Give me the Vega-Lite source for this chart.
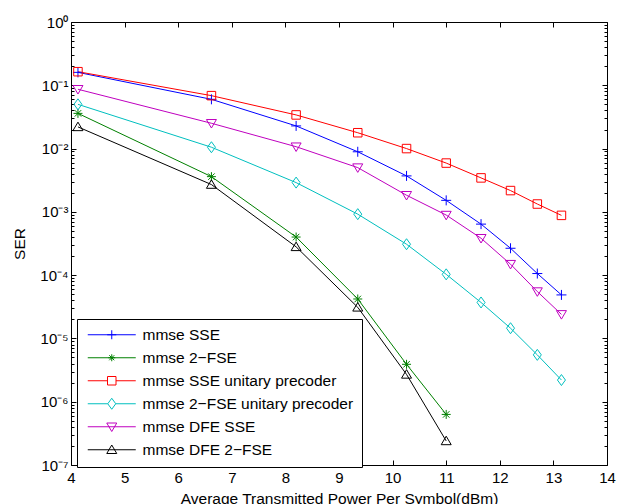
{
  "$schema": "https://vega.github.io/schema/vega-lite/v6.json",
  "width": 536,
  "height": 443,
  "autosize": {"type": "none"},
  "padding": {"left": 71, "top": 22, "right": 11, "bottom": 39},
  "background": "white",
  "config": {
    "font": "Liberation Sans",
    "view": {"stroke": null},
    "axis": {
      "domainColor": "black",
      "domainWidth": 1,
      "tickColor": "black",
      "tickWidth": 1,
      "labelColor": "black",
      "titleColor": "black",
      "grid": false,
      "labelFlush": false,
      "labelFont": "Liberation Sans",
      "titleFont": "Liberation Sans",
      "labelFontSize": 15,
      "titleFontSize": 15.5,
      "titleFontWeight": "normal"
    },
    "legend": {
      "title": null,
      "orient": "none",
      "legendX": 6,
      "legendY": 297,
      "strokeColor": "black",
      "fillColor": "white",
      "padding": 8,
      "symbolSize": 100,
      "symbolStrokeWidth": 1,
      "symbolOpacity": 1,
      "symbolOffset": 19,
      "labelOffset": 23,
      "labelFontSize": 15.5,
      "labelLimit": 0,
      "labelColor": "black",
      "labelFont": "Liberation Sans",
      "rowPadding": 6
    }
  },
  "data": {
    "values": [
      {"series": "mmse SSE", "x": 4.13, "ser": 0.16},
      {"series": "mmse SSE", "x": 6.62, "ser": 0.06},
      {"series": "mmse SSE", "x": 8.2, "ser": 0.0228},
      {"series": "mmse SSE", "x": 9.35, "ser": 0.0089},
      {"series": "mmse SSE", "x": 10.26, "ser": 0.0037},
      {"series": "mmse SSE", "x": 11.0, "ser": 0.00152},
      {"series": "mmse SSE", "x": 11.65, "ser": 0.00064},
      {"series": "mmse SSE", "x": 12.2, "ser": 0.000266},
      {"series": "mmse SSE", "x": 12.7, "ser": 0.000106},
      {"series": "mmse SSE", "x": 13.15, "ser": 0.0000487},
      {"series": "mmse 2−FSE", "x": 4.13, "ser": 0.036},
      {"series": "mmse 2−FSE", "x": 6.62, "ser": 0.0036},
      {"series": "mmse 2−FSE", "x": 8.2, "ser": 0.0004},
      {"series": "mmse 2−FSE", "x": 9.35, "ser": 0.000042},
      {"series": "mmse 2−FSE", "x": 10.26, "ser": 0.0000039},
      {"series": "mmse 2−FSE", "x": 11.0, "ser": 0.00000063},
      {"series": "mmse SSE unitary precoder", "x": 4.13, "ser": 0.164},
      {"series": "mmse SSE unitary precoder", "x": 6.62, "ser": 0.0686},
      {"series": "mmse SSE unitary precoder", "x": 8.2, "ser": 0.034},
      {"series": "mmse SSE unitary precoder", "x": 9.35, "ser": 0.0178},
      {"series": "mmse SSE unitary precoder", "x": 10.26, "ser": 0.01},
      {"series": "mmse SSE unitary precoder", "x": 11.0, "ser": 0.0059},
      {"series": "mmse SSE unitary precoder", "x": 11.65, "ser": 0.00344},
      {"series": "mmse SSE unitary precoder", "x": 12.2, "ser": 0.00217},
      {"series": "mmse SSE unitary precoder", "x": 12.7, "ser": 0.00133},
      {"series": "mmse SSE unitary precoder", "x": 13.15, "ser": 0.00088},
      {"series": "mmse 2−FSE unitary precoder", "x": 4.13, "ser": 0.05},
      {"series": "mmse 2−FSE unitary precoder", "x": 6.62, "ser": 0.0105},
      {"series": "mmse 2−FSE unitary precoder", "x": 8.2, "ser": 0.0029},
      {"series": "mmse 2−FSE unitary precoder", "x": 9.35, "ser": 0.00092},
      {"series": "mmse 2−FSE unitary precoder", "x": 10.26, "ser": 0.000308},
      {"series": "mmse 2−FSE unitary precoder", "x": 11.0, "ser": 0.000103},
      {"series": "mmse 2−FSE unitary precoder", "x": 11.65, "ser": 0.000037},
      {"series": "mmse 2−FSE unitary precoder", "x": 12.2, "ser": 0.0000145},
      {"series": "mmse 2−FSE unitary precoder", "x": 12.7, "ser": 0.0000055},
      {"series": "mmse 2−FSE unitary precoder", "x": 13.15, "ser": 0.0000022},
      {"series": "mmse DFE SSE", "x": 4.13, "ser": 0.0865},
      {"series": "mmse DFE SSE", "x": 6.62, "ser": 0.0251},
      {"series": "mmse DFE SSE", "x": 8.2, "ser": 0.0107},
      {"series": "mmse DFE SSE", "x": 9.35, "ser": 0.005},
      {"series": "mmse DFE SSE", "x": 10.26, "ser": 0.00183},
      {"series": "mmse DFE SSE", "x": 11.0, "ser": 0.00089},
      {"series": "mmse DFE SSE", "x": 11.65, "ser": 0.000383},
      {"series": "mmse DFE SSE", "x": 12.2, "ser": 0.000149},
      {"series": "mmse DFE SSE", "x": 12.7, "ser": 0.000055},
      {"series": "mmse DFE SSE", "x": 13.15, "ser": 0.000024},
      {"series": "mmse DFE 2−FSE", "x": 4.13, "ser": 0.022},
      {"series": "mmse DFE 2−FSE", "x": 6.62, "ser": 0.0027},
      {"series": "mmse DFE 2−FSE", "x": 8.2, "ser": 0.00028},
      {"series": "mmse DFE 2−FSE", "x": 9.35, "ser": 0.000031},
      {"series": "mmse DFE 2−FSE", "x": 10.26, "ser": 0.0000027},
      {"series": "mmse DFE 2−FSE", "x": 11.0, "ser": 0.00000024}
    ]
  },
  "layer": [
    {
      "mark": {"type": "line", "strokeWidth": 1},
      "encoding": {
        "x": {
          "field": "x", "type": "quantitative",
          "scale": {"domain": [4, 14], "nice": false, "zero": false},
          "axis": {
            "orient": "bottom",
            "values": [4, 5, 6, 7, 8, 9, 10, 11, 12, 13, 14],
            "format": "d",
            "tickSize": -5,
            "labelPadding": 10,
            "title": "Average Transmitted Power Per Symbol(dBm)",
            "titlePadding": 6
          }
        },
        "y": {
          "field": "ser", "type": "quantitative",
          "scale": {"type": "log", "domain": [1e-7, 1], "nice": false},
          "axis": {
            "orient": "left",
            "values": [1e-7, 2e-7, 3e-7, 4e-7, 5e-7, 6e-7, 7e-7, 8e-7, 9e-7,
                       1e-6, 2e-6, 3e-6, 4e-6, 5e-6, 6e-6, 7e-6, 8e-6, 9e-6,
                       1e-5, 2e-5, 3e-5, 4e-5, 5e-5, 6e-5, 7e-5, 8e-5, 9e-5,
                       1e-4, 2e-4, 3e-4, 4e-4, 5e-4, 6e-4, 7e-4, 8e-4, 9e-4,
                       1e-3, 2e-3, 3e-3, 4e-3, 5e-3, 6e-3, 7e-3, 8e-3, 9e-3,
                       1e-2, 2e-2, 3e-2, 4e-2, 5e-2, 6e-2, 7e-2, 8e-2, 9e-2,
                       1e-1, 2e-1, 3e-1, 4e-1, 5e-1, 6e-1, 7e-1, 8e-1, 9e-1, 1],
            "labelExpr": "abs(datum.value / pow(10, round(log(datum.value) / LN10)) - 1) < 1e-6 ? ['10⁰','10⁻¹','10⁻²','10⁻³','10⁻⁴','10⁻⁵','10⁻⁶','10⁻⁷'][-round(log(datum.value) / LN10)] : ''",
            "tickSize": {"condition": {"test": "abs(datum.value / pow(10, round(log(datum.value) / LN10)) - 1) < 1e-6", "value": -5}, "value": -3},
            "labelPadding": 8,
            "labelFontSize": 15,
            "title": "SER",
            "titlePadding": 12
          }
        },
        "color": {
          "field": "series", "type": "nominal",
          "legend": null,
          "scale": {
            "domain": ["mmse SSE", "mmse 2−FSE", "mmse SSE unitary precoder", "mmse 2−FSE unitary precoder", "mmse DFE SSE", "mmse DFE 2−FSE"],
            "range": ["#0000ff", "#008000", "#ff0000", "#00bfbf", "#bf00bf", "#000000"]
          }
        }
      }
    },
    {
      "mark": {"type": "point", "filled": false, "size": 100, "strokeWidth": 1, "opacity": 1},
      "encoding": {
        "x": {"field": "x", "type": "quantitative", "axis": null},
        "y": {"field": "ser", "type": "quantitative", "axis": null},
        "color": {
          "field": "series", "type": "nominal",
          "legend": null,
          "scale": {
            "domain": ["mmse SSE", "mmse 2−FSE", "mmse SSE unitary precoder", "mmse 2−FSE unitary precoder", "mmse DFE SSE", "mmse DFE 2−FSE"],
            "range": ["#0000ff", "#008000", "#ff0000", "#00bfbf", "#bf00bf", "#000000"]
          }
        },
        "shape": {
          "field": "series", "type": "nominal",
          "legend": null,
          "scale": {
            "domain": ["mmse SSE", "mmse 2−FSE", "mmse SSE unitary precoder", "mmse 2−FSE unitary precoder", "mmse DFE SSE", "mmse DFE 2−FSE"],
            "range": [
              "M-1,0H1M0,-1V1",
              "M-0.9,0H0.9M0,-0.9V0.9M-0.65,-0.65L0.65,0.65M-0.65,0.65L0.65,-0.65",
              "M-0.85,-0.85H0.85V0.85H-0.85Z",
              "M0,-1.1L0.8,0L0,1.1L-0.8,0Z",
              "M-1,-0.75H1L0,0.95Z",
              "M-1,0.75H1L0,-0.95Z"
            ]
          }
        }
      }
    },
    {
      "mark": {"type": "point", "filled": false, "size": 100, "strokeWidth": 1, "opacity": 0},
      "encoding": {
        "x": {
          "field": "x", "type": "quantitative",
          "axis": {"orient": "top", "values": [4, 5, 6, 7, 8, 9, 10, 11, 12, 13, 14], "labels": false, "tickSize": -5, "title": null}
        },
        "y": {
          "field": "ser", "type": "quantitative",
          "axis": {
            "orient": "right",
            "values": [1e-7, 2e-7, 3e-7, 4e-7, 5e-7, 6e-7, 7e-7, 8e-7, 9e-7,
                       1e-6, 2e-6, 3e-6, 4e-6, 5e-6, 6e-6, 7e-6, 8e-6, 9e-6,
                       1e-5, 2e-5, 3e-5, 4e-5, 5e-5, 6e-5, 7e-5, 8e-5, 9e-5,
                       1e-4, 2e-4, 3e-4, 4e-4, 5e-4, 6e-4, 7e-4, 8e-4, 9e-4,
                       1e-3, 2e-3, 3e-3, 4e-3, 5e-3, 6e-3, 7e-3, 8e-3, 9e-3,
                       1e-2, 2e-2, 3e-2, 4e-2, 5e-2, 6e-2, 7e-2, 8e-2, 9e-2,
                       1e-1, 2e-1, 3e-1, 4e-1, 5e-1, 6e-1, 7e-1, 8e-1, 9e-1, 1],
            "labels": false,
            "tickSize": {"condition": {"test": "abs(datum.value / pow(10, round(log(datum.value) / LN10)) - 1) < 1e-6", "value": -5}, "value": -3},
            "title": null
          }
        },
        "color": {
          "field": "series", "type": "nominal",
          "scale": {
            "domain": ["mmse SSE", "mmse 2−FSE", "mmse SSE unitary precoder", "mmse 2−FSE unitary precoder", "mmse DFE SSE", "mmse DFE 2−FSE"],
            "range": ["#0000ff", "#008000", "#ff0000", "#00bfbf", "#bf00bf", "#000000"]
          }
        },
        "shape": {
          "field": "series", "type": "nominal",
          "scale": {
            "domain": ["mmse SSE", "mmse 2−FSE", "mmse SSE unitary precoder", "mmse 2−FSE unitary precoder", "mmse DFE SSE", "mmse DFE 2−FSE"],
            "range": [
              "M-4.8,0H4.8M-0.9,0H0.9M0,-0.9V0.9",
              "M-4.8,0H4.8M-0.7,0H0.7M0,-0.7V0.7M-0.5,-0.5L0.5,0.5M-0.5,0.5L0.5,-0.5",
              "M-4.8,0H-0.85M0.85,0H4.8M-0.85,-0.85H0.85V0.85H-0.85Z",
              "M-4.8,0H-0.8M0.8,0H4.8M0,-1.1L0.8,0L0,1.1L-0.8,0Z",
              "M-4.8,0H4.8M-1,-0.75H1L0,0.95Z",
              "M-4.8,0H4.8M-1,0.75H1L0,-0.95Z"
            ]
          }
        }
      }
    }
  ],
  "resolve": {
    "scale": {"color": "independent", "shape": "independent"},
    "legend": {"color": "independent", "shape": "independent"},
    "axis": {"x": "independent", "y": "independent"}
  }
}
